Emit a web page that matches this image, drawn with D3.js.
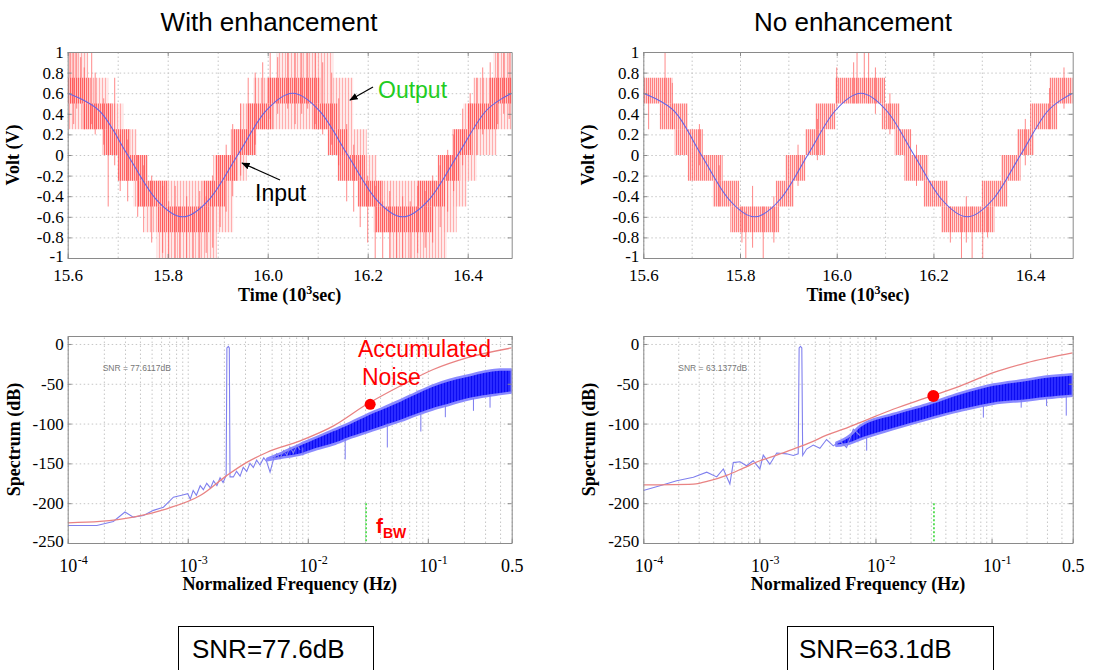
<!DOCTYPE html>
<html>
<head>
<meta charset="utf-8">
<script src="https://cdn.jsdelivr.net/npm/d3@7"></script>
<style>
body { margin: 0; background: #fff; }
svg text { font-family: "Liberation Sans", Arial, sans-serif; }
.axis path, .axis line { stroke: #8a8a8a; }
.grid line { stroke: #c6c6c6; stroke-dasharray: 1.5,2.5; }
.grid path { display: none; }
.serif { font-family: "Liberation Serif", "Times New Roman", serif; font-weight: bold; font-size: 18px; }
</style>
</head>
<body>
<div id="graph"></div>
<script>
// ---- data ----
var titles = ['With enhancement', 'No enhancement'];
var snrLabels = ['SNR=77.6dB', 'SNR=63.1dB'];
var snrSmall = ['SNR = 77.6117dB', 'SNR = 63.1377dB'];

var timeTicks = [15.6, 15.8, 16.0, 16.2, 16.4];
var timeGrid = [15.6, 15.7, 15.8, 15.9, 16.0, 16.1, 16.2, 16.3, 16.4];
var voltTicks = [1, 0.8, 0.6, 0.4, 0.2, 0, -0.2, -0.4, -0.6, -0.8, -1];
var specTicks = [0, -50, -100, -150, -200, -250];
var freqTicks = [1e-4, 1e-3, 1e-2, 1e-1, 0.5];
var freqBase = ['10', '10', '10', '10', '0.5'];
var freqExp = ['-4', '-3', '-2', '-1', ''];

// input sine (time in 10^3 s, volts)
var inputT = [15.600, 15.665, 15.720, 15.775, 15.830, 15.885, 15.940, 15.995, 16.050, 16.105, 16.160, 16.215, 16.270, 16.325, 16.380, 16.435, 16.488];
var inputV = [0.60, 0.42, 0.00, -0.42, -0.60, -0.42, 0.00, 0.42, 0.60, 0.42, 0.00, -0.42, -0.60, -0.42, 0.00, 0.42, 0.60];

// quantised output: [t0, t1, low level, high level]
var segWithDense = [
    [15.600, 15.645, 0.50, 0.75], [15.630, 15.690, 0.25, 0.50], [15.670, 15.725, 0.00, 0.25],
    [15.700, 15.760, -0.25, 0.00], [15.740, 15.800, -0.50, -0.25], [15.780, 15.885, -0.75, -0.50],
    [15.870, 15.915, -0.50, -0.25], [15.895, 15.940, -0.25, 0.00], [15.930, 15.975, 0.00, 0.25],
    [15.960, 16.010, 0.25, 0.50], [16.000, 16.105, 0.50, 0.75], [16.090, 16.140, 0.25, 0.50],
    [16.120, 16.160, 0.00, 0.25], [16.140, 16.195, -0.25, 0.00], [16.180, 16.230, -0.50, -0.25],
    [16.215, 16.330, -0.75, -0.50], [16.300, 16.355, -0.50, -0.25], [16.340, 16.385, -0.25, 0.00],
    [16.370, 16.410, 0.00, 0.25], [16.400, 16.460, 0.25, 0.50], [16.445, 16.488, 0.50, 0.75]
];
var segWithWide = [
    [15.600, 15.641, 0.25, 1.00], [15.641, 15.681, 0.25, 0.75], [15.678, 15.711, 0.00, 0.50],
    [15.711, 15.738, -0.25, 0.25], [15.731, 15.758, -0.50, 0.00], [15.755, 15.785, -0.75, -0.25],
    [15.778, 15.898, -1.00, -0.25], [15.891, 15.931, -0.75, 0.00], [15.925, 15.958, -0.25, 0.25],
    [15.945, 15.978, 0.00, 0.50], [15.971, 16.018, 0.25, 0.75], [16.018, 16.131, 0.25, 1.00],
    [16.131, 16.171, 0.00, 0.75], [16.171, 16.198, -0.25, 0.25], [16.191, 16.218, -0.50, 0.00],
    [16.211, 16.251, -0.75, -0.25], [16.245, 16.358, -1.00, -0.25], [16.351, 16.378, -0.75, 0.00],
    [16.371, 16.398, -0.50, 0.25], [16.391, 16.418, -0.25, 0.50], [16.411, 16.458, 0.00, 0.75],
    [16.451, 16.488, 0.25, 1.00]
];
var spikesWith = [
    [15.606, 0.5, 1.0], [15.612, 0.3, 1.0], [15.618, 0.45, 1.0], [15.626, 0.5, 0.95], [15.633, 0.25, 0.85],
    [15.648, 0.3, 1.0], [15.655, 0.2, 0.8], [15.672, 0.1, 0.55], [15.681, -0.5, 0.5], [15.694, -0.1, 0.75],
    [15.705, -0.35, 0.2], [15.720, -0.45, 0.15], [15.740, -0.6, 0.0], [15.752, -0.75, -0.1], [15.768, -0.85, -0.2],
    [15.790, -0.95, -0.3], [15.802, -1.0, -0.45], [15.815, -1.0, -0.3], [15.824, -1.0, -0.5], [15.838, -1.0, -0.4],
    [15.851, -1.0, -0.55], [15.864, -1.0, -0.35], [15.877, -0.95, -0.4], [15.890, -0.9, -0.2], [15.905, -0.7, 0.0],
    [15.917, -0.55, 0.1], [15.930, -0.4, 0.3], [15.946, -0.2, 0.5], [15.961, 0.0, 0.75], [15.975, 0.1, 0.8],
    [15.990, 0.25, 0.9], [16.005, 0.35, 1.0], [16.020, 0.4, 0.95], [16.040, 0.45, 1.0], [16.055, 0.3, 1.0],
    [16.068, 0.4, 1.0], [16.080, 0.45, 1.0], [16.095, 0.3, 1.0], [16.110, 0.2, 0.9], [16.128, 0.1, 0.8],
    [16.142, -0.1, 0.55], [16.158, -0.45, 0.3], [16.172, -0.55, 0.1], [16.185, -0.7, -0.05], [16.200, -0.85, -0.2],
    [16.215, -1.0, -0.3], [16.230, -1.0, -0.45], [16.244, -1.0, -0.35], [16.258, -1.0, -0.5], [16.270, -1.0, -0.4],
    [16.285, -1.0, -0.45], [16.300, -0.95, -0.3], [16.315, -0.9, -0.35], [16.330, -0.85, -0.2], [16.345, -0.7, -0.1],
    [16.360, -0.55, 0.05], [16.372, -0.35, 0.2], [16.390, -0.1, 0.45], [16.405, 0.05, 0.6], [16.418, 0.0, 0.75],
    [16.430, 0.2, 0.85], [16.445, 0.25, 0.9], [16.460, 0.3, 1.0], [16.472, 0.4, 1.0], [16.483, 0.35, 1.0]
];

var segNo = [
    [15.600, 15.660, 0.50, 0.75], [15.634, 15.692, 0.25, 0.50], [15.665, 15.723, 0.00, 0.25],
    [15.692, 15.764, -0.25, 0.00], [15.744, 15.798, -0.50, -0.25], [15.780, 15.881, -0.75, -0.50],
    [15.874, 15.911, -0.50, -0.25], [15.894, 15.935, -0.25, 0.00], [15.935, 15.976, 0.00, 0.25],
    [15.956, 15.997, 0.25, 0.50], [15.997, 16.100, 0.50, 0.75], [16.093, 16.130, 0.25, 0.50],
    [16.120, 16.154, 0.00, 0.25], [16.140, 16.189, -0.25, 0.00], [16.180, 16.230, -0.50, -0.25],
    [16.216, 16.326, -0.75, -0.50], [16.300, 16.353, -0.50, -0.25], [16.340, 16.380, -0.25, 0.00],
    [16.373, 16.408, 0.00, 0.25], [16.400, 16.456, 0.25, 0.50], [16.440, 16.488, 0.50, 0.75]
];
var spikesNo = [
    [15.611, 0.25, 0.6], [15.645, 0.5, 1.0], [15.660, 0.25, 0.7], [15.716, -0.1, 0.3], [15.757, -0.5, -0.1],
    [15.804, -0.85, -0.5], [15.812, -1.0, -0.55], [15.826, -0.9, -0.3], [15.848, -1.0, -0.5], [15.870, -0.85, -0.4],
    [15.920, -0.3, 0.1], [15.960, -0.05, 0.35], [16.000, 0.45, 0.85], [16.035, 0.5, 0.9], [16.042, 0.5, 1.0],
    [16.057, 0.55, 1.0], [16.066, 0.5, 1.0], [16.080, 0.4, 0.85], [16.110, 0.2, 0.6], [16.165, -0.3, 0.1],
    [16.235, -0.85, -0.5], [16.258, -1.0, -0.6], [16.268, -0.85, -0.4], [16.280, -1.0, -0.5], [16.302, -1.0, -0.55],
    [16.312, -0.8, -0.5], [16.390, -0.1, 0.35], [16.440, 0.25, 0.65], [16.470, 0.45, 0.85]
];

// spectra (normalized frequency, dB)
var noiseWithF = [1e-4, 1.86e-4, 3.52e-4, 6.68e-4, 1.27e-3, 2.11e-3, 3.1e-3, 4.55e-3, 8.63e-3, 1.64e-2, 3.1e-2, 5.87e-2, 0.111, 0.211, 0.5];
var noiseWithDb = [-224.6, -222.9, -217.5, -207, -190.4, -165.4, -148.8, -136.3, -121.7, -102.9, -75.8, -52.9, -32.1, -17.5, -5];
var specWithF = [1e-4, 1.75e-4, 2.4e-4, 3.0e-4, 3.52e-4, 4.28e-4, 5.18e-4, 6.27e-4, 7.6e-4, 8.9e-4, 1.0e-3, 1.05e-3,
    1.11e-3, 1.18e-3, 1.27e-3, 1.35e-3, 1.44e-3, 1.55e-3, 1.64e-3, 1.75e-3, 1.86e-3, 1.97e-3, 2.09e-3, 2.12e-3,
    2.18e-3, 2.22e-3, 2.25e-3, 2.4e-3, 2.55e-3, 2.73e-3, 2.9e-3, 3.1e-3, 3.3e-3, 3.52e-3, 3.75e-3, 4.0e-3, 4.3e-3,
    4.55e-3, 4.85e-3, 5.18e-3, 5.5e-3, 5.87e-3, 6.3e-3, 6.68e-3, 7.1e-3, 7.6e-3, 8.1e-3, 8.63e-3];
var specWithDb = [-228, -228, -223, -211, -217.5, -215.5, -209, -205, -192.5, -190, -188, -195,
    -184, -190, -178, -183, -175, -181, -172, -178, -168, -174, -165, -5,
    -3, -5, -167, -167, -160, -166, -155, -160, -150, -155, -146, -152, -143,
    -148, -161, -145, -138, -144, -134, -140, -130, -137, -127, -133];
var bandWithF = [4.6e-3, 6.0e-3, 8.63e-3, 1.19e-2, 1.64e-2, 2.25e-2, 3.1e-2, 4.28e-2, 5.87e-2, 8.1e-2, 0.111, 0.153, 0.211, 0.291, 0.4, 0.5];
var bandWithLo = [-146, -143, -139, -132, -126, -118, -111, -104, -97, -89, -82, -76, -70, -66, -63, -61];
var bandWithHi = [-144, -137, -126, -117, -108, -99, -89, -80, -71, -61, -52, -45, -40, -35, -32, -32];
var dipsWith = [[9.1e-3, -130, -140], [2.05e-2, -118, -145], [4.6e-2, -100, -130], [8.75e-2, -88, -110], [0.14, -78, -92], [0.24, -68, -84], [0.33, -64, -80]];

var noiseNoF = [1e-4, 2.7e-4, 3.75e-4, 5.22e-4, 7.26e-4, 1.01e-3, 1.41e-3, 1.96e-3, 2.73e-3, 3.79e-3, 5.28e-3, 7.35e-3, 1.42e-2, 2.75e-2, 5.35e-2, 0.1035, 0.2, 0.5];
var noiseNoDb = [-177, -176, -171.7, -165, -156, -146.7, -139.6, -132, -124, -114.6, -107, -98.8, -82, -67.5, -53, -36, -23.7, -11.25];
var specNoF = [1e-4, 1.39e-4, 1.94e-4, 2.7e-4, 3.52e-4, 4.29e-4, 4.89e-4, 5.57e-4, 5.96e-4, 6.8e-4, 7.76e-4, 8.85e-4,
    1.01e-3, 1.08e-3, 1.23e-3, 1.41e-3, 1.72e-3, 1.96e-3, 2.16e-3, 2.2e-3, 2.26e-3, 2.32e-3, 2.36e-3, 2.55e-3,
    2.91e-3, 3.32e-3, 3.79e-3, 4.33e-3, 4.94e-3, 5.64e-3, 6.44e-3, 7.35e-3];
var specNoDb = [-184, -178, -171.7, -167.5, -161, -167, -157, -176, -149, -148, -153, -146.7,
    -157, -139.6, -151, -137, -138, -140, -138, -5, -3, -5, -140, -132,
    -127, -131, -120, -128, -122, -130, -107, -115];
var bandNoF = [4.6e-3, 6.0e-3, 7.35e-3, 1.42e-2, 2.75e-2, 5.35e-2, 0.1035, 0.2, 0.3, 0.5];
var bandNoLo = [-128, -125, -120, -107, -95, -84, -75, -71, -68, -65];
var bandNoHi = [-124, -115, -103, -88, -76, -62, -51, -45, -41, -38];
var dipsNo = [[8.4e-3, -118, -134], [8.5e-2, -78, -92.5], [0.18, -70, -80], [0.298, -68, -78], [0.44, -64, -90]];

var fBW = [0.0306, 0.0319];
var dotF = [0.0331, 0.0315];
var dotDb = [-75.8, -65.4];

// ---- layout ----
var panels = [{x0: 67.7, x1: 511.7}, {x0: 643.3, x1: 1072.7}];
var timeTop = 52, timeBottom = 258, specTop = 336, specBottom = 543;
var serifFont = '"Liberation Serif", "Times New Roman", serif';

var svg = d3.select('#graph').append('svg')
    .attr('width', 1110)
    .attr('height', 670);
var defs = svg.append('defs');

var pl = defs.append('pattern').attr('id', 'pLight')
    .attr('patternUnits', 'userSpaceOnUse').attr('width', 3).attr('height', 4);
pl.append('rect').attr('width', 3).attr('height', 4).attr('fill', '#ffe6e6');
pl.append('rect').attr('width', 1).attr('height', 4).attr('fill', '#ffa0a0');

var pd = defs.append('pattern').attr('id', 'pDense')
    .attr('patternUnits', 'userSpaceOnUse').attr('width', 2).attr('height', 4);
pd.append('rect').attr('width', 2).attr('height', 4).attr('fill', '#ffc4c4');
pd.append('rect').attr('width', 1).attr('height', 4).attr('fill', '#ff4a4a');

var pb = defs.append('pattern').attr('id', 'pBlue')
    .attr('patternUnits', 'userSpaceOnUse').attr('width', 3).attr('height', 4);
pb.append('rect').attr('width', 3).attr('height', 4).attr('fill', '#2a2aff');
pb.append('rect').attr('width', 1).attr('height', 4).attr('fill', '#0c0cf2');

defs.append('marker').attr('id', 'arrow')
    .attr('viewBox', '0 0 10 10').attr('refX', 9).attr('refY', 5)
    .attr('markerWidth', 7).attr('markerHeight', 7).attr('orient', 'auto')
    .append('path').attr('d', 'M0,1 L10,5 L0,9 z').attr('fill', '#000');

function frame(g, x, y, xGrid, yGrid) {
    var w = x.range()[1] - x.range()[0];
    var h = y.range()[0] - y.range()[1];
    g.append('g').attr('class', 'grid')
        .attr('transform', 'translate(0,' + y.range()[0] + ')')
        .call(d3.axisBottom(x).tickValues(xGrid).tickSize(-h).tickFormat(''));
    g.append('g').attr('class', 'grid')
        .attr('transform', 'translate(' + x.range()[0] + ',0)')
        .call(d3.axisLeft(y).tickValues(yGrid).tickSize(-w).tickFormat(''));
}

function box(g, x, y, xTicks, yTicks, xFmt, yFmt) {
    var ax = g.append('g').attr('class', 'axis')
        .attr('transform', 'translate(0,' + y.range()[0] + ')')
        .call(d3.axisBottom(x).tickValues(xTicks).tickSizeInner(-4).tickSizeOuter(0).tickPadding(11).tickFormat(xFmt));
    g.append('g').attr('class', 'axis')
        .attr('transform', 'translate(0,' + y.range()[1] + ')')
        .call(d3.axisTop(x).tickValues(xTicks).tickSizeInner(-4).tickSizeOuter(0).tickFormat(''));
    var ay = g.append('g').attr('class', 'axis')
        .attr('transform', 'translate(' + x.range()[0] + ',0)')
        .call(d3.axisLeft(y).tickValues(yTicks).tickSizeInner(-4).tickSizeOuter(0).tickPadding(4).tickFormat(yFmt));
    g.append('g').attr('class', 'axis')
        .attr('transform', 'translate(' + x.range()[1] + ',0)')
        .call(d3.axisRight(y).tickValues(yTicks).tickSizeInner(-4).tickSizeOuter(0).tickFormat(''));
    g.selectAll('.axis text')
        .style('font-family', serifFont)
        .style('font-size', '17px')
        .style('fill', '#000');
    // the lowest y label sits a little above its tick, as in the source figure
    ay.selectAll('.tick')
        .filter(function(d) { return d == yTicks[yTicks.length - 1]; })
        .select('text').attr('y', -1.5);
    return ax;
}

function timeChart(i, dense, wide, spikes, shade) {
    var x = d3.scaleLinear().domain([15.6, 16.488]).range([panels[i].x0, panels[i].x1]);
    var y = d3.scaleLinear().domain([-1, 1]).range([timeBottom, timeTop]);
    var g = svg.append('g');

    defs.append('clipPath').attr('id', 'clipT' + i)
        .append('rect').attr('x', x.range()[0]).attr('y', timeTop)
        .attr('width', x.range()[1] - x.range()[0]).attr('height', timeBottom - timeTop);

    frame(g, x, y, timeGrid, voltTicks);

    var plot = g.append('g').attr('clip-path', 'url(#clipT' + i + ')');
    plot.selectAll('.wide').data(wide).enter().append('rect')
        .attr('x', function(d) { return x(d[0]); })
        .attr('width', function(d) { return x(d[1]) - x(d[0]); })
        .attr('y', function(d) { return y(d[3]); })
        .attr('height', function(d) { return y(d[2]) - y(d[3]); })
        .attr('fill', 'url(#pLight)')
        .attr('opacity', 0.85);
    plot.selectAll('.dense').data(dense).enter().append('rect')
        .attr('x', function(d) { return x(d[0]); })
        .attr('width', function(d) { return x(d[1]) - x(d[0]); })
        .attr('y', function(d) { return y(d[3]); })
        .attr('height', function(d) { return y(d[2]) - y(d[3]); })
        .attr('fill', 'url(#pDense)')
        .attr('opacity', shade);
    plot.selectAll('.spike').data(spikes).enter().append('line')
        .attr('x1', function(d) { return x(d[0]); })
        .attr('x2', function(d) { return x(d[0]); })
        .attr('y1', function(d) { return y(d[1]); })
        .attr('y2', function(d) { return y(d[2]); })
        .attr('stroke', '#ff4d4d')
        .attr('stroke-width', 1)
        .attr('opacity', 0.65);

    var line = d3.line()
        .x(function(d, k) { return x(inputT[k]); })
        .y(function(d) { return y(d); })
        .curve(d3.curveCardinal);
    plot.append('path').datum(inputV)
        .attr('d', line)
        .attr('fill', 'none')
        .attr('stroke', '#6464e6')
        .attr('stroke-width', 1.1);

    box(g, x, y, timeTicks, voltTicks,
        function(d) { return d.toFixed(1); },
        function(d) { return String(d); });

    var cx = (x.range()[0] + x.range()[1]) / 2;
    var t = g.append('text').attr('class', 'serif')
        .attr('x', cx).attr('y', 301).attr('text-anchor', 'middle')
        .text('Time (10');
    t.append('tspan').style('font-size', '12px').attr('dy', -7).text('3');
    t.append('tspan').attr('dy', 7).text('sec)');

    g.append('text').attr('class', 'serif')
        .attr('transform', 'translate(' + (x.range()[0] - 49) + ',' + ((timeTop + timeBottom) / 2) + ') rotate(-90)')
        .attr('text-anchor', 'middle')
        .text('Volt (V)');
}

function specChart(i, noiseF, noiseDb, specF, specDb, bandF, bandLo, bandHi, dips) {
    var x = d3.scaleLog().domain([1e-4, 0.5]).range([panels[i].x0, panels[i].x1]);
    var y = d3.scaleLinear().domain([-250, 10]).range([specBottom, specTop]);
    var g = svg.append('g');

    defs.append('clipPath').attr('id', 'clipS' + i)
        .append('rect').attr('x', x.range()[0]).attr('y', specTop)
        .attr('width', x.range()[1] - x.range()[0]).attr('height', specBottom - specTop);

    frame(g, x, y, x.ticks(), specTicks);

    var plot = g.append('g').attr('clip-path', 'url(#clipS' + i + ')');

    var area = d3.area()
        .x(function(d, k) { return x(bandF[k]); })
        .y0(function(d, k) { return y(bandLo[k]); })
        .y1(function(d, k) { return y(bandHi[k]); })
        .curve(d3.curveMonotoneX);
    plot.append('path').datum(bandF)
        .attr('d', area)
        .attr('fill', 'url(#pBlue)')
        .attr('stroke', '#8a8aff')
        .attr('stroke-width', 2.5)
        .attr('stroke-linejoin', 'round');

    plot.selectAll('.dip').data(dips).enter().append('line')
        .attr('x1', function(d) { return x(d[0]); })
        .attr('x2', function(d) { return x(d[0]); })
        .attr('y1', function(d) { return y(d[1]); })
        .attr('y2', function(d) { return y(d[2]); })
        .attr('stroke', '#7b7bf0')
        .attr('stroke-width', 1);

    var specLine = d3.line()
        .x(function(d, k) { return x(specF[k]); })
        .y(function(d) { return y(d); });
    plot.append('path').datum(specDb)
        .attr('d', specLine)
        .attr('fill', 'none')
        .attr('stroke', '#8080ee')
        .attr('stroke-width', 1.1);

    var noiseLine = d3.line()
        .x(function(d, k) { return x(noiseF[k]); })
        .y(function(d) { return y(d); })
        .curve(d3.curveMonotoneX);
    plot.append('path').datum(noiseDb)
        .attr('d', noiseLine)
        .attr('fill', 'none')
        .attr('stroke', '#e98383')
        .attr('stroke-width', 1.3);

    plot.append('line')
        .attr('x1', x(fBW[i])).attr('x2', x(fBW[i]))
        .attr('y1', y(-200)).attr('y2', y(-250))
        .attr('stroke', '#2bd42b')
        .attr('stroke-width', 1.5)
        .attr('stroke-dasharray', '2,2');

    plot.append('circle')
        .attr('cx', x(dotF[i])).attr('cy', y(dotDb[i]))
        .attr('r', i == 0 ? 5.5 : 6)
        .attr('fill', '#ff0000');

    var ax = box(g, x, y, freqTicks, specTicks, function() { return ''; }, function(d) { return String(d); });
    ax.selectAll('.tick').each(function(d, k) {
        var tk = d3.select(this);
        tk.select('text').remove();
        tk.append('text').attr('y', 29)
            .attr('text-anchor', 'middle')
            .style('font-family', serifFont)
            .style('font-size', '18px')
            .style('fill', '#000')
            .text(freqBase[k]);
        if (freqExp[k]) {
            tk.append('text').attr('x', 9.5).attr('y', 21)
                .attr('text-anchor', 'start')
                .style('font-family', serifFont)
                .style('font-size', '12px')
                .style('fill', '#000')
                .text(freqExp[k]);
        }
    });

    g.append('text').attr('class', 'serif')
        .attr('x', (x.range()[0] + x.range()[1]) / 2).attr('y', 590)
        .attr('text-anchor', 'middle')
        .text('Normalized Frequency (Hz)');
    g.append('text').attr('class', 'serif')
        .attr('transform', 'translate(' + (x.range()[0] - 48) + ',' + ((specTop + specBottom) / 2) + ') rotate(-90)')
        .attr('text-anchor', 'middle')
        .text('Spectrum (dB)');
    g.append('text')
        .attr('x', x.range()[0] + 35).attr('y', 371)
        .attr('font-size', '8.5px')
        .attr('fill', '#777')
        .text(snrSmall[i]);
}

timeChart(0, segWithDense, segWithWide, spikesWith, 0.8);
timeChart(1, segNo, [], spikesNo, 0.7);
specChart(0, noiseWithF, noiseWithDb, specWithF, specWithDb, bandWithF, bandWithLo, bandWithHi, dipsWith);
specChart(1, noiseNoF, noiseNoDb, specNoF, specNoDb, bandNoF, bandNoLo, bandNoHi, dipsNo);

// titles
svg.append('text').attr('x', 269).attr('y', 31).attr('text-anchor', 'middle')
    .attr('font-size', '26px').text(titles[0]);
svg.append('text').attr('x', 853).attr('y', 31).attr('text-anchor', 'middle')
    .attr('font-size', '26px').text(titles[1]);

// annotations on the left time plot
svg.append('text').attr('x', 378).attr('y', 98).attr('font-size', '23px')
    .attr('fill', '#22cc22').text('Output');
svg.append('line').attr('x1', 373).attr('y1', 87).attr('x2', 350).attr('y2', 100)
    .attr('stroke', '#000').attr('stroke-width', 1.2).attr('marker-end', 'url(#arrow)');
svg.append('text').attr('x', 255).attr('y', 201).attr('font-size', '23px')
    .attr('fill', '#000').text('Input');
svg.append('line').attr('x1', 280).attr('y1', 180).attr('x2', 242).attr('y2', 163)
    .attr('stroke', '#000').attr('stroke-width', 1.2).attr('marker-end', 'url(#arrow)');

// annotations on the left spectrum
svg.append('text').attr('x', 358).attr('y', 357).attr('font-size', '23px')
    .attr('fill', '#ff0000').text('Accumulated');
svg.append('text').attr('x', 362).attr('y', 385).attr('font-size', '23px')
    .attr('fill', '#ff0000').text('Noise');
var fb = svg.append('text').attr('x', 376).attr('y', 533)
    .attr('font-size', '21px').attr('font-weight', 'bold')
    .attr('fill', '#ff0000').text('f');
fb.append('tspan').attr('font-size', '14px').attr('dy', 5).text('BW');

// SNR boxes
svg.append('rect').attr('x', 178.5).attr('y', 626.5).attr('width', 195).attr('height', 60)
    .attr('fill', 'none').attr('stroke', '#000');
svg.append('text').attr('x', 192).attr('y', 658).attr('font-size', '26px').text(snrLabels[0]);
svg.append('rect').attr('x', 787.5).attr('y', 626.5).attr('width', 206).attr('height', 60)
    .attr('fill', 'none').attr('stroke', '#000');
svg.append('text').attr('x', 799).attr('y', 658).attr('font-size', '26px').text(snrLabels[1]);
</script>
</body>
</html>
